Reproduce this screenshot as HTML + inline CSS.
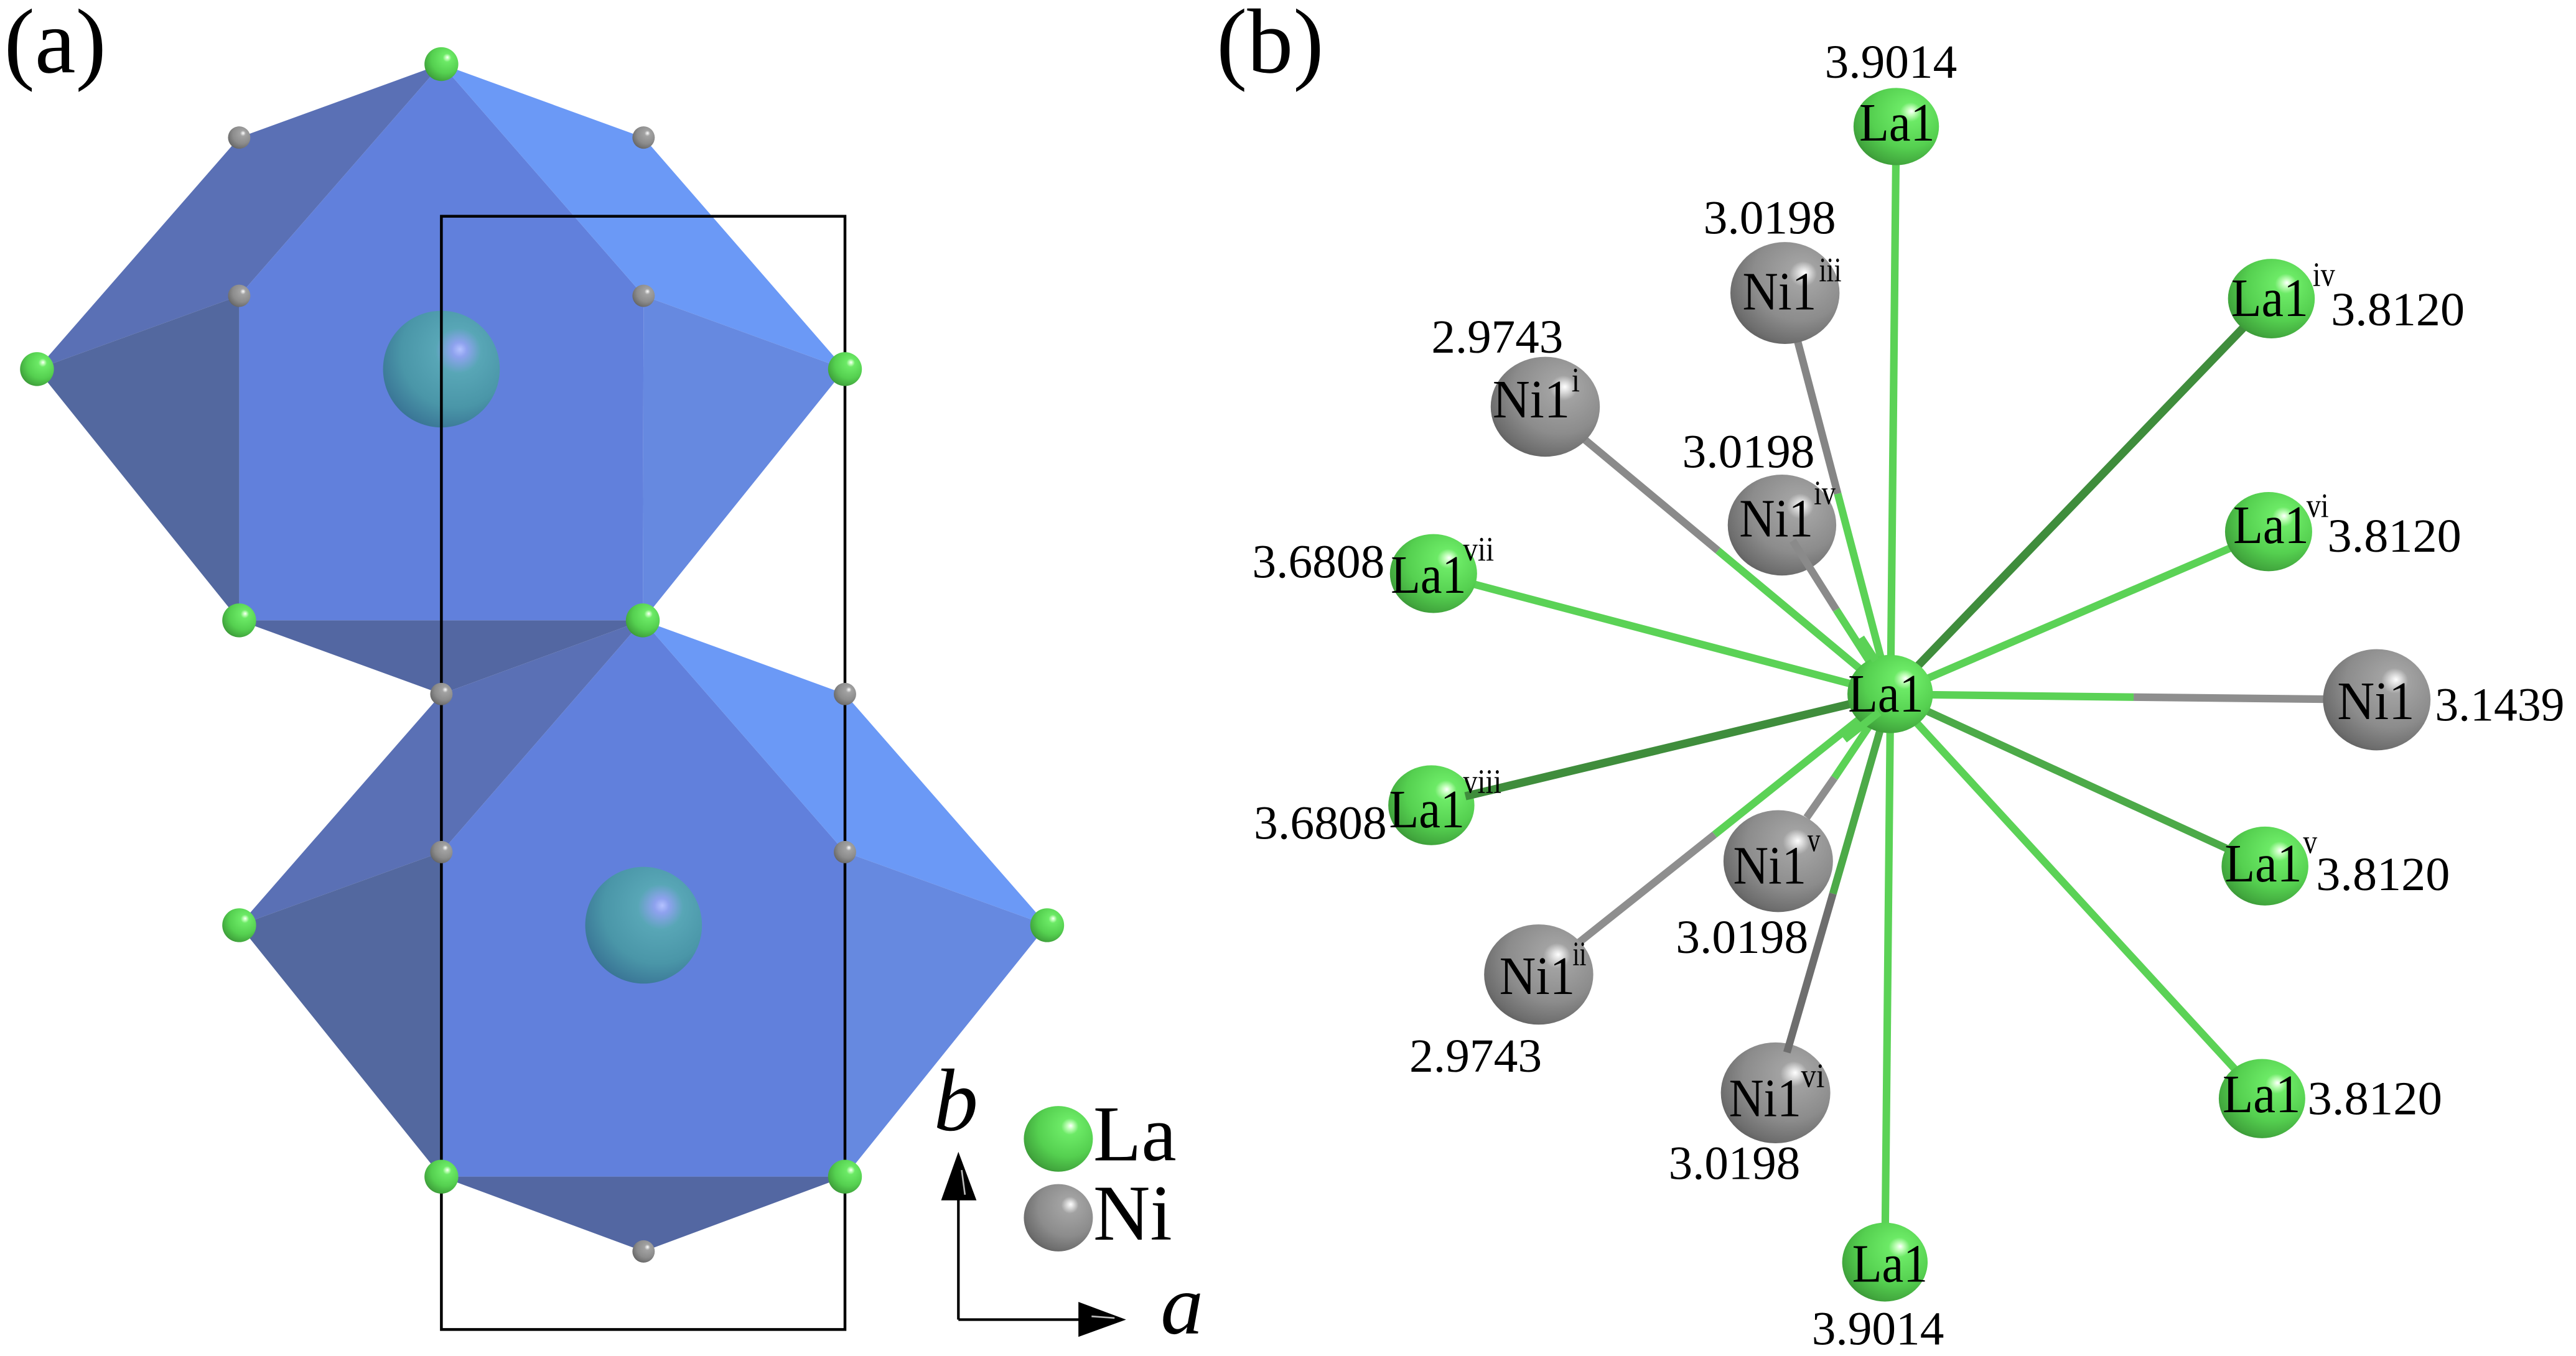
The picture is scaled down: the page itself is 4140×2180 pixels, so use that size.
<!DOCTYPE html>
<html><head><meta charset="utf-8"><style>
html,body{margin:0;padding:0;background:#fff;}
svg{display:block;}
text{font-family:"Liberation Serif","Times New Roman","DejaVu Serif",serif;fill:#000;}
.d{font-size:29px;}
.l{font-size:33px;}
.s{font-size:21px;}
</style></head><body>
<svg width="4140" height="2180" viewBox="0 0 1567 825.13" preserveAspectRatio="none" xmlns="http://www.w3.org/2000/svg" font-family="Liberation Serif, Times New Roman, DejaVu Serif, serif">
<defs>
<radialGradient id="gG" cx="0.6" cy="0.38" r="0.78" fx="0.68" fy="0.3">
 <stop offset="0" stop-color="#ffffff"/>
 <stop offset="0.06" stop-color="#c4ffbc"/>
 <stop offset="0.16" stop-color="#6cea66"/>
 <stop offset="0.55" stop-color="#55d050"/>
 <stop offset="0.8" stop-color="#42a83e"/>
 <stop offset="1" stop-color="#2f7a2c"/>
</radialGradient>
<radialGradient id="gY" cx="0.6" cy="0.38" r="0.78" fx="0.68" fy="0.3">
 <stop offset="0" stop-color="#ffffff"/>
 <stop offset="0.06" stop-color="#dedede"/>
 <stop offset="0.16" stop-color="#a2a2a2"/>
 <stop offset="0.55" stop-color="#8c8c8c"/>
 <stop offset="0.8" stop-color="#6e6e6e"/>
 <stop offset="1" stop-color="#4a4a4a"/>
</radialGradient>
<radialGradient id="gT" cx="0.6" cy="0.38" r="0.78" fx="0.66" fy="0.33">
 <stop offset="0" stop-color="#b4c2ff"/>
 <stop offset="0.08" stop-color="#8ea2ee"/>
 <stop offset="0.25" stop-color="#58a6b6"/>
 <stop offset="0.6" stop-color="#4a96a8"/>
 <stop offset="0.85" stop-color="#3a7696"/>
 <stop offset="1" stop-color="#2c5a86"/>
</radialGradient>
</defs>

<!-- ===== Panel (a) ===== -->
<text x="2.5" y="44" style="font-size:56px">(a)</text>

<!-- upper polyhedron -->
<polygon points="268.5,39 145.5,83.7 22.5,224.6 145.5,180" fill="#5a70b5"/>
<polygon points="22.5,224.6 145.5,180 145.5,377.5" fill="#53689f"/>
<polygon points="268.5,39 145.5,180 145.5,377.5 391,377.5 391.5,180" fill="#6180dc"/>
<polygon points="268.5,39 391.5,83.7 514,224.6 391.5,180" fill="#6b99f6"/>
<polygon points="391.5,180 514,224.6 391,377.5" fill="#6689e0"/>
<polygon points="145.5,377.5 391,377.5 268.5,422.3" fill="#5367a2"/>

<!-- lower polyhedron -->
<polygon points="391,377.5 268.5,422.3 145.5,563 268.5,518.5" fill="#5a70b5"/>
<polygon points="145.5,563 268.5,518.5 268.5,716" fill="#53689f"/>
<polygon points="391,377.5 268.5,518.5 268.5,716 514,716 514,518.5" fill="#6180dc"/>
<polygon points="391,377.5 514,422.3 637,563 514,518.5" fill="#6b99f6"/>
<polygon points="514,518.5 637,563 514,716" fill="#6689e0"/>
<polygon points="268.5,716 514,716 391.5,761.5" fill="#5367a2"/>

<!-- central atoms -->
<circle cx="268.5" cy="224.6" r="35.5" fill="url(#gT)"/>
<circle cx="391.5" cy="563" r="35.5" fill="url(#gT)"/>

<!-- unit cell -->
<rect x="268.5" y="131.6" width="245.5" height="677.4" fill="none" stroke="#000" stroke-width="1.7"/>

<!-- small atoms -->
<g fill="url(#gG)">
<circle cx="268.5" cy="39" r="10.3"/>
<circle cx="22.5" cy="224.6" r="10.3"/>
<circle cx="514" cy="224.6" r="10.3"/>
<circle cx="145.5" cy="377.5" r="10.3"/>
<circle cx="391" cy="377.5" r="10.3"/>
<circle cx="145.5" cy="563" r="10.3"/>
<circle cx="637" cy="563" r="10.3"/>
<circle cx="268.5" cy="716" r="10.3"/>
<circle cx="514" cy="716" r="10.3"/>
</g>
<g fill="url(#gY)">
<circle cx="145.5" cy="83.7" r="6.8"/>
<circle cx="391.5" cy="83.7" r="6.8"/>
<circle cx="145.5" cy="180" r="6.8"/>
<circle cx="391.5" cy="180" r="6.8"/>
<circle cx="268.5" cy="422.3" r="6.8"/>
<circle cx="514" cy="422.3" r="6.8"/>
<circle cx="268.5" cy="518.5" r="6.8"/>
<circle cx="514" cy="518.5" r="6.8"/>
<circle cx="391.5" cy="761.5" r="6.8"/>
</g>

<!-- axes -->
<line x1="583" y1="803" x2="583" y2="728" stroke="#000" stroke-width="1.6"/>
<line x1="583" y1="803" x2="658" y2="803" stroke="#000" stroke-width="1.6"/>
<polygon points="583,700.9 572.5,730.4 594,730.4" fill="#000"/>
<polygon points="685,803 656,792.2 656,813.5" fill="#000"/>
<line x1="585" y1="712" x2="587" y2="727" stroke="#bbb" stroke-width="1"/>
<line x1="664" y1="801" x2="678" y2="802" stroke="#bbb" stroke-width="1"/>
<text x="568" y="687.7" style="font-size:54px;font-style:italic">b</text>
<text x="706" y="811.4" style="font-size:52px;font-style:italic">a</text>

<!-- legend -->
<ellipse cx="643.8" cy="693" rx="21" ry="20" fill="url(#gG)"/>
<ellipse cx="643.8" cy="741" rx="21" ry="20.5" fill="url(#gY)"/>
<text x="665" y="706" style="font-size:48px">La</text>
<text x="665" y="754.4" style="font-size:48px">Ni</text>

<!-- ===== Panel (b) ===== -->
<text x="740" y="44" style="font-size:56px">(b)</text>

<!-- back bonds -->
<g stroke-width="4.6" stroke-linecap="butt">
<line x1="1150" y1="422.5" x2="1153.5" y2="77" stroke="#5bd256"/>
<line x1="1150" y1="422.5" x2="1146.6" y2="768" stroke="#5bd256"/>
<line x1="1150" y1="422.5" x2="872" y2="349" stroke="#5bd256"/>
<line x1="1150" y1="422.5" x2="1381.7" y2="181.7" stroke="#3f8d3c" stroke-width="5"/>
<line x1="1150" y1="422.5" x2="1380" y2="323.5" stroke="#5bd256"/>
<line x1="1150" y1="422.5" x2="1377.8" y2="527" stroke="#4caa48"/>
<line x1="1150" y1="422.5" x2="1376" y2="668.5" stroke="#5bd256"/>
<line x1="1150" y1="422.5" x2="1297.9" y2="424.2" stroke="#5bd256"/>
<line x1="1297.9" y1="424.2" x2="1445.8" y2="425.8" stroke="#8e8e8e"/>
<line x1="1150" y1="422.5" x2="1117.9" y2="300.4" stroke="#5bd256"/>
<line x1="1117.9" y1="300.4" x2="1085.8" y2="178.3" stroke="#858585"/>
<line x1="1150" y1="422.5" x2="1045" y2="335" stroke="#5bd256"/>
<line x1="1045" y1="335" x2="940" y2="247.5" stroke="#8a8a8a"/>
<line x1="1150" y1="422.5" x2="1043" y2="507.8" stroke="#5bd256"/>
<line x1="1043" y1="507.8" x2="936" y2="593" stroke="#8e8e8e"/>
</g>

<!-- outer spheres -->
<g fill="url(#gG)">
<ellipse cx="1153.5" cy="77" rx="26" ry="23.5"/>
<ellipse cx="1146.6" cy="768" rx="26" ry="24"/>
<ellipse cx="872" cy="349" rx="26.5" ry="24"/>
<ellipse cx="870.7" cy="490" rx="26.2" ry="24.3"/>
<ellipse cx="1381.7" cy="181.7" rx="26.4" ry="24.2"/>
<ellipse cx="1380" cy="323.5" rx="26.5" ry="24.1"/>
<ellipse cx="1377.8" cy="527" rx="26.4" ry="24"/>
<ellipse cx="1376" cy="668.5" rx="26.3" ry="24.1"/>
</g>
<g fill="url(#gY)">
<ellipse cx="1085.8" cy="178.3" rx="33.2" ry="31"/>
<ellipse cx="940" cy="247.5" rx="33.2" ry="30.4"/>
<ellipse cx="1084" cy="319.5" rx="33" ry="30.7"/>
<ellipse cx="1445.8" cy="425.8" rx="32.7" ry="30.8"/>
<ellipse cx="936" cy="593" rx="33.2" ry="30.5"/>
<ellipse cx="1081.7" cy="524" rx="33.3" ry="31"/>
<ellipse cx="1080.1" cy="665" rx="33.3" ry="30.7"/>
</g>

<!-- front bonds -->
<g stroke-width="4.6" stroke-linecap="butt">
<line x1="1150" y1="422.5" x2="891.4" y2="484.5" stroke="#3f8d3c" stroke-width="5"/>
<line x1="1150" y1="422.5" x2="1117" y2="371" stroke="#5bd256"/>
<line x1="1117" y1="371" x2="1090.5" y2="329" stroke="#8a8a8a"/>
<line x1="1150" y1="422.5" x2="1115.9" y2="473.3" stroke="#5bd256"/>
<line x1="1115.9" y1="473.3" x2="1099" y2="497.5" stroke="#8e8e8e"/>
<line x1="1150" y1="422.5" x2="1115" y2="543.8" stroke="#4caa48"/>
<line x1="1115" y1="543.8" x2="1087" y2="640.4" stroke="#6e6e6e"/>
</g>

<!-- central sphere -->
<ellipse cx="1149.8" cy="422.3" rx="26" ry="23.8" fill="url(#gG)"/>
<line x1="1122" y1="450" x2="1143" y2="433.4" stroke="#5bd256" stroke-width="4.6"/>
<line x1="1141" y1="402" x2="1132" y2="388" stroke="#5bd256" stroke-width="4.6"/>

<!-- atom labels -->
<text class="l" x="1131" y="85.6" textLength="46" lengthAdjust="spacingAndGlyphs">La1</text>
<text class="l" x="1124.2" y="433" textLength="46" lengthAdjust="spacingAndGlyphs">La1</text>
<text class="l" x="1126.7" y="779.9" textLength="46" lengthAdjust="spacingAndGlyphs">La1</text>

<text class="l" x="1060" y="188.3" textLength="45" lengthAdjust="spacingAndGlyphs">Ni1</text>
<text class="s" x="1106.5" y="171" textLength="13.7" lengthAdjust="spacingAndGlyphs">iii</text>
<text class="l" x="908" y="254" textLength="47" lengthAdjust="spacingAndGlyphs">Ni1</text>
<text class="s" x="956" y="238" textLength="5" lengthAdjust="spacingAndGlyphs">i</text>
<text class="l" x="1058" y="326.5" textLength="45" lengthAdjust="spacingAndGlyphs">Ni1</text>
<text class="s" x="1103.4" y="306.7" textLength="13.2" lengthAdjust="spacingAndGlyphs">iv</text>
<text class="l" x="846" y="360.7" textLength="46" lengthAdjust="spacingAndGlyphs">La1</text>
<text class="s" x="890" y="341" textLength="18.8" lengthAdjust="spacingAndGlyphs">vii</text>
<text class="l" x="1357.2" y="192.2" textLength="47" lengthAdjust="spacingAndGlyphs">La1</text>
<text class="s" x="1406.8" y="173.9" textLength="13.6" lengthAdjust="spacingAndGlyphs">iv</text>
<text class="l" x="1358.5" y="330.4" textLength="46" lengthAdjust="spacingAndGlyphs">La1</text>
<text class="s" x="1403" y="314.6" textLength="13.6" lengthAdjust="spacingAndGlyphs">vi</text>
<text class="l" x="1421.8" y="437.6" textLength="47" lengthAdjust="spacingAndGlyphs">Ni1</text>
<text class="l" x="845" y="503.4" textLength="46" lengthAdjust="spacingAndGlyphs">La1</text>
<text class="s" x="890" y="482.4" textLength="23.4" lengthAdjust="spacingAndGlyphs">viii</text>
<text class="l" x="1353.3" y="536.4" textLength="47" lengthAdjust="spacingAndGlyphs">La1</text>
<text class="s" x="1401" y="519.2" textLength="8.6" lengthAdjust="spacingAndGlyphs">v</text>
<text class="l" x="912.1" y="604.8" textLength="46" lengthAdjust="spacingAndGlyphs">Ni1</text>
<text class="s" x="956.6" y="587.2" textLength="8.4" lengthAdjust="spacingAndGlyphs">ii</text>
<text class="l" x="1054.3" y="537.7" textLength="44.5" lengthAdjust="spacingAndGlyphs">Ni1</text>
<text class="s" x="1099.5" y="518" textLength="7.8" lengthAdjust="spacingAndGlyphs">v</text>
<text class="l" x="1051.7" y="679.3" textLength="44" lengthAdjust="spacingAndGlyphs">Ni1</text>
<text class="s" x="1095.6" y="661.4" textLength="14.3" lengthAdjust="spacingAndGlyphs">vi</text>
<text class="l" x="1352" y="676.7" textLength="47.5" lengthAdjust="spacingAndGlyphs">La1</text>

<!-- distance labels -->
<text class="d" x="1110" y="47.4" textLength="80.5" lengthAdjust="spacingAndGlyphs">3.9014</text>
<text class="d" x="1036.2" y="142.2" textLength="80.6" lengthAdjust="spacingAndGlyphs">3.0198</text>
<text class="d" x="870.7" y="214.6" textLength="80.2" lengthAdjust="spacingAndGlyphs">2.9743</text>
<text class="d" x="1023.3" y="284.4" textLength="80.6" lengthAdjust="spacingAndGlyphs">3.0198</text>
<text class="d" x="761.7" y="351.5" textLength="80.6" lengthAdjust="spacingAndGlyphs">3.6808</text>
<text class="d" x="1417.9" y="198" textLength="81.4" lengthAdjust="spacingAndGlyphs">3.8120</text>
<text class="d" x="1415.8" y="335.7" textLength="81.5" lengthAdjust="spacingAndGlyphs">3.8120</text>
<text class="d" x="1481.2" y="438.4" textLength="78.8" lengthAdjust="spacingAndGlyphs">3.1439</text>
<text class="d" x="762.7" y="510.5" textLength="80.9" lengthAdjust="spacingAndGlyphs">3.6808</text>
<text class="d" x="1408.9" y="541.6" textLength="81.4" lengthAdjust="spacingAndGlyphs">3.8120</text>
<text class="d" x="1019.4" y="579.8" textLength="80.6" lengthAdjust="spacingAndGlyphs">3.0198</text>
<text class="d" x="857.3" y="652.2" textLength="80.7" lengthAdjust="spacingAndGlyphs">2.9743</text>
<text class="d" x="1403.7" y="678" textLength="81.9" lengthAdjust="spacingAndGlyphs">3.8120</text>
<text class="d" x="1015" y="717.5" textLength="80.1" lengthAdjust="spacingAndGlyphs">3.0198</text>
<text class="d" x="1102.1" y="818.1" textLength="80.5" lengthAdjust="spacingAndGlyphs">3.9014</text>
</svg>
</body></html>
